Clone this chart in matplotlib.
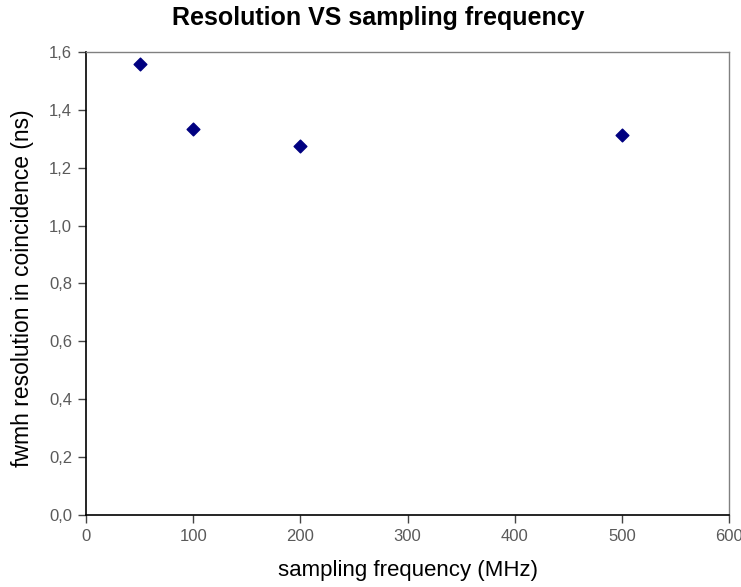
import matplotlib
matplotlib.use('Agg')
import matplotlib.pyplot as plt
from matplotlib.ticker import FuncFormatter

# data
freq_mhz = [50, 100, 200, 500]
fwhm_ns = [1.558, 1.334, 1.275, 1.313]

x_ticks = [0, 100, 200, 300, 400, 500, 600]
y_ticks = [0.0, 0.2, 0.4, 0.6, 0.8, 1.0, 1.2, 1.4, 1.6]

plt.rcParams['font.family'] = ['Liberation Sans', 'DejaVu Sans']

fig = plt.figure(figsize=(7.41, 5.87), dpi=100)
ax = fig.add_axes([0.1161, 0.1227, 0.8677, 0.7887])

ax.scatter(freq_mhz, fwhm_ns, marker='D', s=42, color='#000080', zorder=3)

ax.set_xlim(0, 600)
ax.set_ylim(0, 1.6)
ax.set_xticks(x_ticks)
ax.set_yticks(y_ticks)
ax.yaxis.set_major_formatter(FuncFormatter(lambda v, p: f'{v:.1f}'.replace('.', ',')))
ax.tick_params(direction='out', length=6, width=1, labelsize=12,
               labelcolor='#5a5a5a', color='#444444', pad=4)

for side in ['left', 'bottom']:
    ax.spines[side].set_color('black')
    ax.spines[side].set_linewidth(1.2)
for side in ['top', 'right']:
    ax.spines[side].set_color('#808080')
    ax.spines[side].set_linewidth(1.0)

ax.set_xlabel('sampling frequency (MHz)', fontsize=16, va='center')
ax.xaxis.set_label_coords(0.5, -0.121)
ax.set_ylabel('fwmh resolution in coincidence (ns)', fontsize=16.5, va='center')
ax.yaxis.set_label_coords(-0.099, 0.49)
fig.text(0.511, 0.969, 'Resolution VS sampling frequency', fontsize=18,
         fontweight='bold', ha='center', va='center')

fig.savefig('out.png', dpi=100)
